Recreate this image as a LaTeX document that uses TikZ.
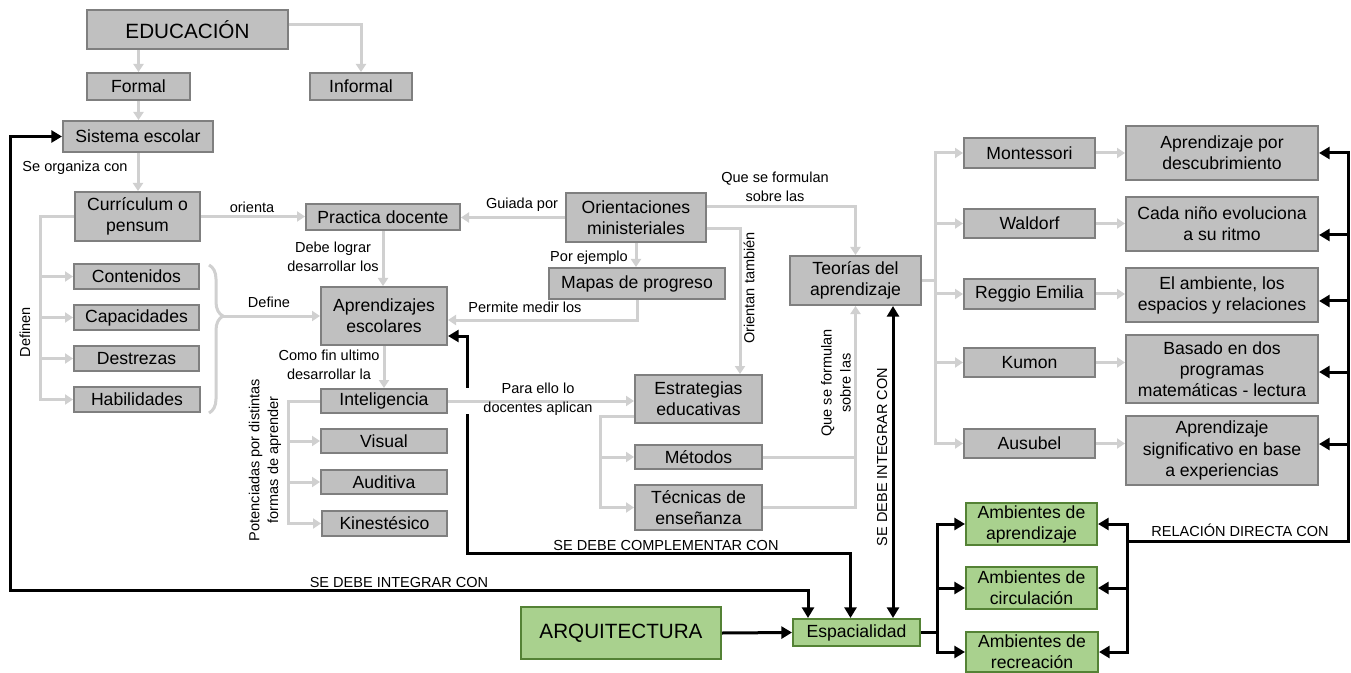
\documentclass[tikz,border=0pt]{standalone}
\usepackage{fontspec}
\setmainfont{Liberation Sans}
\usetikzlibrary{arrows.meta,calc,decorations.pathreplacing}
\definecolor{gf}{HTML}{C0C0C0}
\definecolor{gbd}{HTML}{7F7F7F}
\definecolor{lg}{HTML}{D0D0D0}
\definecolor{grf}{HTML}{A9D18E}
\definecolor{grb}{HTML}{548235}
\pgfdeclarelayer{background}
\pgfsetlayers{background,main}
\newcommand{\mkbox}[7]{\node[#1, minimum width={(#4-#2)*0.75pt}, minimum height={(#5-#3)*0.75pt}] (#7) at ({(#2+#4)/2},{(#3+#5)/2}) {#6};}
\tikzset{
 gb/.style={draw=gbd, fill=gf, line width=1.5pt, inner sep=0pt, align=center, font=\fontsize{13.2}{15.8}\selectfont},
 grn/.style={gb, draw=grb, fill=grf},
 big/.style={font=\fontsize{15.5}{18}\selectfont},
 lbl/.style={inner sep=0pt, align=center, font=\fontsize{10.9}{14.2}\selectfont},
 gn/.style={draw=lg, line width=2.25pt},
 gl/.style={gn, >={Triangle[length=6pt,width=7.5pt]}, ->},
 bk/.style={draw=black, line width=2.25pt, >={Triangle[length=8pt,width=9pt]}},
}
\begin{document}
\begin{tikzpicture}[x=0.75pt,y=-0.75pt]
\useasboundingbox (0,0) rectangle (1351,673);
% ---------- nodes
\mkbox{gb,big}{87}{10}{288}{49}{EDUCACIÓN}{edu}
\mkbox{gb}{87}{73}{190}{100}{Formal}{formal}
\mkbox{gb}{310}{73}{412}{100}{Informal}{informal}
\mkbox{gb}{63}{121}{213}{152}{Sistema escolar}{sistema}
\mkbox{gb}{75}{192}{200}{241}{Currículum o\\pensum}{curric}
\mkbox{gb}{306}{204}{460}{230}{Practica docente}{practica}
\mkbox{gb}{566}{193}{706}{242}{Orientaciones\\ministeriales}{orient}
\mkbox{gb}{549}{268}{725}{299}{Mapas de progreso}{mapas}
\mkbox{gb}{790}{256}{921}{305}{Teorías del\\aprendizaje}{teorias}
\mkbox{gb}{74}{264}{199}{289}{Contenidos}{cont}
\mkbox{gb}{74}{305}{199}{330}{Capacidades}{capac}
\mkbox{gb}{74}{346}{199}{371}{Destrezas}{destr}
\mkbox{gb}{74}{387}{200}{412}{Habilidades}{habil}
\mkbox{gb}{321}{287}{447}{345}{Aprendizajes\\escolares}{aprend}
\mkbox{gb}{321}{389}{447}{413}{Inteligencia}{intel}
\mkbox{gb}{321}{429}{447}{453}{Visual}{visual}
\mkbox{gb}{321}{470}{447}{494}{Auditiva}{audit}
\mkbox{gb}{322}{511}{447}{536}{Kinestésico}{kines}
\mkbox{gb}{635}{375}{762}{423}{Estrategias\\educativas}{estrat}
\mkbox{gb}{635}{445}{762}{469}{Métodos}{metod}
\mkbox{gb}{635}{485}{762}{530}{Técnicas de\\enseñanza}{tecn}
\mkbox{gb}{964}{138}{1095}{168}{Montessori}{mont}
\mkbox{gb}{1126}{126}{1318}{180}{Aprendizaje por\\descubrimiento}{descub}
\mkbox{gb}{964}{209}{1095}{238}{Waldorf}{wald}
\mkbox{gb}{1126}{197}{1318}{251}{Cada niño evoluciona\\a su ritmo}{cada}
\mkbox{gb}{964}{279}{1095}{309}{Reggio Emilia}{reggio}
\mkbox{gb}{1126}{268}{1318}{322}{El ambiente, los\\espacios y relaciones}{ambie}
\mkbox{gb}{964}{348}{1095}{377}{Kumon}{kumon}
\mkbox{gb}{1126}{335}{1318}{403}{Basado en dos\\programas\\matemáticas - lectura}{basado}
\mkbox{gb}{964}{429}{1095}{458}{Ausubel}{ausub}
\mkbox{gb}{1126}{416}{1318}{485}{Aprendizaje\\significativo en base\\a experiencias}{signif}
\mkbox{grn}{966}{503}{1097}{545}{Ambientes de\\aprendizaje}{amb1}
\mkbox{grn}{966}{567}{1097}{609}{Ambientes de\\circulación}{amb2}
\mkbox{grn}{966}{632}{1098}{672}{Ambientes de\\recreación}{amb3}
\mkbox{grn,big}{521}{607}{721}{659}{ARQUITECTURA}{arq}
\mkbox{grn}{793}{619}{920}{646}{Espacialidad}{espac}
% ---------- coordinates
\coordinate (lft) at (40,0);
\coordinate (brt) at (223,316);
\coordinate (il) at (288,0);
\coordinate (el) at (600,0);
\coordinate (tr) at (935,0);
\coordinate (lj) at (937,0);
\coordinate (rj) at (1127,541);
\coordinate (rr) at (1348,541);
\coordinate (r2) at (1348,235);
\coordinate (r3) at (1348,301);
\coordinate (r4) at (1348,372);
\coordinate (r5) at (1348,444);
\coordinate (es) at ($(estrat.west)+(0,17)$);
% ---------- connectors
\begin{pgfonlayer}{background}
\fill[white] (0,0) rectangle (1351,673);
% black
\draw[bk,<->] (sistema.west) -| (10,590) -| ($(espac.north)+(-48.5,0)$);
\draw[bk,<->] ($(aprend.east)+(0,20)$) -| (467,553) -| ($(espac.north)+(-6,0)$);
\draw[bk,<->] ($(teorias.south)+(37.5,0)$) -- ($(espac.north)+(36.5,0)$);
\draw[bk,->] (arq.east) -- (espac.west);
\draw[bk,->] (espac.east) -- (espac.east -| lj) |- (amb1.west);
\draw[bk,->] (espac.east -| lj) |- (amb3.west);
\draw[bk,->] (lj |- amb2.west) -- (amb2.west);
\draw[bk,->] (rj) |- (amb1.east);
\draw[bk,->] (rj) |- (amb3.east);
\draw[bk,->] (rj |- amb2.east) -- (amb2.east);
\draw[bk,->] (rj) -- (rr) |- (descub.east);
\draw[bk,->] (r2) -- (r2 -| cada.east);
\draw[bk,->] (r3) -- (r3 -| ambie.east);
\draw[bk,->] (r4) -- (r4 -| basado.east);
\draw[bk,->] (r5) -- (r5 -| signif.east);
% gray
\draw[gl] (formal.north |- edu.south) -- (formal.north);
\draw[gl] ($(edu.east)+(0,-5)$) -| (informal.north);
\draw[gl] (formal.south) -- (formal.south |- sistema.north);
\draw[gl] (sistema.south) -- (sistema.south |- curric.north);
\draw[gl] (curric.east) -- (curric.east -| practica.west);
\draw[gl] (curric.west) -- (curric.west -| lft) |- (habil.west);
\foreach \n in {cont,capac,destr} \draw[gl] (lft |- \n.west) -- (\n.west);
\draw[gn, decorate, decoration={brace, amplitude=10.5pt, aspect=0.345}] (209,265) -- (209,413);
\draw[gl] (brt) -- (brt -| aprend.west);
\draw[gl] (practica.south) -- (practica.south |- aprend.north);
\draw[gl] (orient.west) -- (orient.west -| practica.east);
\draw[gl] (orient.south) -- (orient.south |- mapas.north);
\draw[gl] (mapas.south) |- ($(aprend.east)+(0,4)$);
\draw[gl] ($(orient.east)+(0,-10.5)$) -| (teorias.north);
\draw[gl] ($(orient.east)+(0,11.5)$) -| ($(estrat.north)+(41.5,0)$);
\draw[gl] (aprend.south) -- (aprend.south |- intel.north);
\draw[gl] (intel.west) -- (intel.west -| il) |- (kines.west);
\foreach \n in {visual,audit} \draw[gl] (il |- \n.west) -- (\n.west);
\draw[gl, preaction={draw=white,line width=19.5pt,arrows=-}] (intel.east) -- (intel.east -| estrat.west);
\draw[gl] (es) -- (es -| el) |- (tecn.west);
\draw[gl] (el |- metod.west) -- (metod.west);
\draw[gl] (tecn.east) -| (teorias.south);
\draw[gn] (metod.east) -- (metod.east -| teorias.south);
\draw[gn] (teorias.east) -- (teorias.east -| tr);
\draw[gl] (teorias.east -| tr) |- (mont.west);
\draw[gl] (teorias.east -| tr) |- (ausub.west);
\foreach \n in {wald,reggio,kumon} \draw[gl] (tr |- \n.west) -- (\n.west);
\draw[gl] (mont.east) -- (mont.east -| descub.west);
\draw[gl] (wald.east) -- (wald.east -| cada.west);
\draw[gl] (reggio.east) -- (reggio.east -| ambie.west);
\draw[gl] (kumon.east) -- (kumon.east -| basado.west);
\draw[gl] (ausub.east) -- (ausub.east -| signif.west);
\end{pgfonlayer}
% ---------- labels
\node[lbl] (l1) at (75,168) {Se organiza con};
\node[lbl] (l2) at (252,207) {orienta};
\node[lbl, rotate=90] (l3) at (25,332) {Definen};
\node[lbl] (l4) at (269,302) {Define};
\node[lbl] (l5) at (333,256.5) {Debe lograr\\desarrollar los};
\node[lbl] (l6) at (522,205) {Guiada por};
\node[lbl] (l7) at (589,258) {Por ejemplo};
\node[lbl] (l8) at (525,307) {Permite medir los};
\node[lbl] (l9) at (775,187) {Que se formulan\\sobre las};
\node[lbl, rotate=90] (l10) at (749,288) {Orientan también};
\node[lbl] (l11) at (329,365) {Como fin ultimo\\desarrollar la};
\node[lbl, rotate=90] (l12) at (265,460) {Potenciadas por distintas\\formas de aprender};
\node[lbl] (l13) at (538,399) {Para ello lo\\docentes aplican};
\node[lbl, rotate=90] (l14) at (836,383) {Que se formulan\\sobre las};
\node[lbl] (l15) at (399,582) {SE DEBE INTEGRAR CON};
\node[lbl] (l16) at (666,545) {SE DEBE COMPLEMENTAR CON};
\node[lbl, rotate=90] (l17) at (882,457) {SE DEBE INTEGRAR CON};
\node[lbl] (l18) at (1240,530) {RELACIÓN DIRECTA CON};
\end{tikzpicture}
\end{document}
